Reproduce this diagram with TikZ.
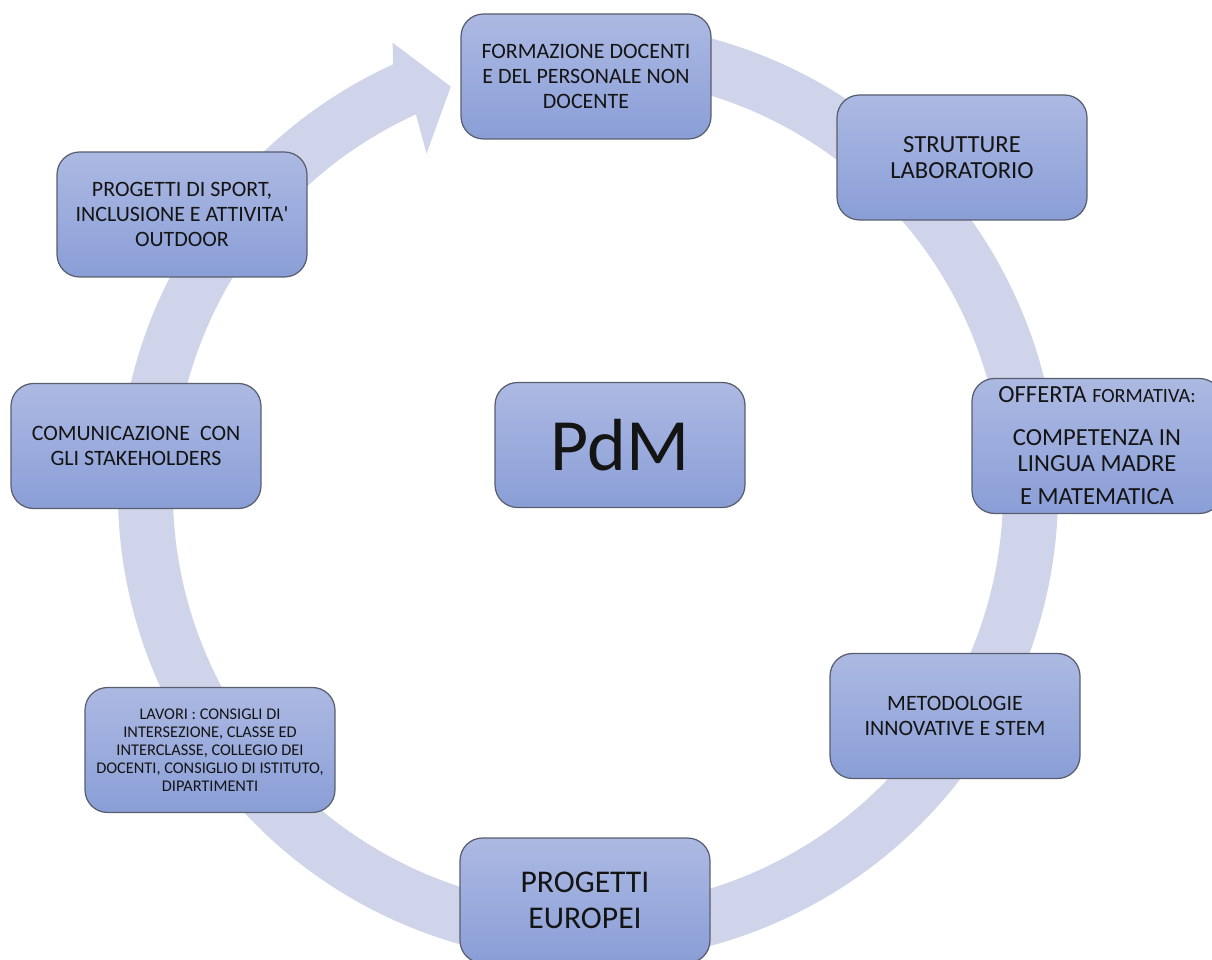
\documentclass[tikz,border=0pt]{standalone}
\usepackage{fontspec}
\setmainfont{Carlito}[Ligatures=TeXOff]
\usepackage{xcolor}
\definecolor{ringblue}{RGB}{208,212,235}
\definecolor{boxtop}{RGB}{172,185,226}
\definecolor{boxbottom}{RGB}{138,158,215}
\definecolor{boxline}{RGB}{88,94,110}

\begin{document}
\begin{tikzpicture}[x=0.02cm,y=0.02cm,
  planbox/.style={draw=boxline,line width=0.7pt,rounded corners=0.45cm,
    top color=boxtop,bottom color=boxbottom,minimum width=5cm,
    minimum height=2.5cm,align=center,inner sep=2pt,text=black!92}]
  \clip (0,0) rectangle (1212,959);
  \fill[ringblue,shift={(588,467)}] (78:470) arc[start angle=78,end angle=-245.5,radius=470]
    -- (113.5:490) -- (108.7:428) -- (115.5:375) -- (114.5:415)
    arc[start angle=-245.5,end angle=78,radius=415] -- cycle;
  \node[planbox,font=\fontsize{12.5}{14}\selectfont] (formazione) at (586,882.5)
    {FORMAZIONE DOCENTI\\E DEL PERSONALE NON\\DOCENTE};
  \node[planbox,font=\fontsize{14}{15}\selectfont] (strutture) at (962,801.5)
    {STRUTTURE\\LABORATORIO};
  \node[planbox,minimum height=2.7cm,font=\fontsize{14}{15}\selectfont] (offerta) at (1097,513)
    {OFFERTA {\fontsize{11.5}{12}\selectfont FORMATIVA:}\\[9pt]COMPETENZA IN\\LINGUA MADRE\\[4pt]E MATEMATICA};
  \node[planbox,font=\fontsize{12.5}{14}\selectfont] (metodologie) at (955,243)
    {METODOLOGIE\\INNOVATIVE E STEM};
  \node[planbox,font=\fontsize{18}{20.5}\selectfont] (europei) at (585,58.5)
    {PROGETTI\\EUROPEI};
  \node[planbox,font=\fontsize{9.3}{10.2}\selectfont] (lavori) at (210,209)
    {LAVORI : CONSIGLI DI\\INTERSEZIONE, CLASSE ED\\INTERCLASSE, COLLEGIO DEI\\DOCENTI, CONSIGLIO DI ISTITUTO,\\DIPARTIMENTI};
  \node[planbox,font=\fontsize{12.5}{14}\selectfont] (comunicazione) at (136,513)
    {COMUNICAZIONE\ \ CON\\GLI STAKEHOLDERS};
  \node[planbox,font=\fontsize{12.5}{14}\selectfont] (sport) at (182,744.5)
    {PROGETTI DI SPORT,\\INCLUSIONE E ATTIVITA'\\OUTDOOR};
  \node[planbox,font=\fontsize{42}{46}\selectfont] (pdm) at (620,514) {PdM};
\end{tikzpicture}
\end{document}
